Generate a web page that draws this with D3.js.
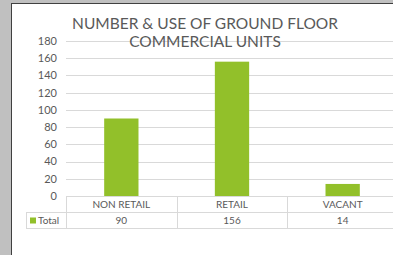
<!DOCTYPE html>
<html>
<head>
<meta charset="utf-8">
<script src="https://cdn.jsdelivr.net/npm/d3@7"></script>
<style>
  html, body { margin: 0; padding: 0; background: #c0c0c0; overflow: hidden; }
  svg { display: block; }
  text { font-family: Lato, "Open Sans", sans-serif; fill: #595959; }
</style>
</head>
<body>
<div id="chart"></div>
<script>
const categories = ['NON RETAIL', 'RETAIL', 'VACANT'];
const totals = [90, 156, 14];
const yTicks = [0, 20, 40, 60, 80, 100, 120, 140, 160, 180];
const titleLines = ['NUMBER & USE OF GROUND FLOOR', 'COMMERCIAL UNITS'];
const seriesName = 'Total';

const width = 393, height = 255;
const plot = {left: 66, right: 398, top: 41, bottom: 196};
const rowH = 16;
const green = '#92c02a';
const grid = '#d9d9d9';

const svg = d3.select('#chart').append('svg')
    .attr('width', width)
    .attr('height', height);

// chart panel
svg.append('rect')
    .attr('x', 11.5).attr('y', 3.5)
    .attr('width', width).attr('height', height)
    .style('fill', '#fff')
    .style('stroke', '#404040');

const y = d3.scaleLinear().domain([0, 180]).range([plot.bottom, plot.top]);
const cols = d3.scaleBand().domain(categories).range([plot.left, plot.right]);
const x = d3.scaleBand().domain(categories).range([plot.left, plot.right])
    .paddingInner(0.69).paddingOuter(0.345);

// gridlines
svg.append('g').selectAll('line')
    .data(yTicks.slice(1))
    .join('line')
    .attr('x1', plot.left).attr('x2', plot.right)
    .attr('y1', d => Math.round(y(d)) + 0.5).attr('y2', d => Math.round(y(d)) + 0.5)
    .style('stroke', grid);

// y axis labels
svg.append('g').selectAll('text')
    .data(yTicks)
    .join('text')
    .attr('x', 57).attr('y', d => y(d))
    .attr('dy', '0.35em')
    .attr('text-anchor', 'end')
    .style('font-size', '11px')
    .text(d => d);

// bars
svg.append('g').selectAll('rect')
    .data(categories)
    .join('rect')
    .attr('x', d => x(d))
    .attr('width', x.bandwidth())
    .attr('y', (d, i) => y(totals[i]))
    .attr('height', (d, i) => y(0) - y(totals[i]))
    .style('fill', green);

// title (drawn over the top gridline)
svg.append('g').selectAll('text')
    .data(titleLines)
    .join('text')
    .attr('x', 205)
    .attr('y', (d, i) => 29 + i * 18)
    .attr('text-anchor', 'middle')
    .style('font-size', '15.5px')
    .text(d => d);

// data table
const table = svg.append('g').style('stroke', grid).style('fill', 'none');
const r0 = plot.bottom + 0.5, r1 = r0 + rowH, r2 = r1 + rowH;
table.append('line').attr('x1', plot.left).attr('x2', width).attr('y1', r0).attr('y2', r0);
table.append('line').attr('x1', 26).attr('x2', width).attr('y1', r1).attr('y2', r1);
table.append('line').attr('x1', 26).attr('x2', width).attr('y1', r2).attr('y2', r2);
table.append('line').attr('x1', 26.5).attr('x2', 26.5).attr('y1', r1).attr('y2', r2);
table.selectAll('line.col')
    .data(categories)
    .join('line')
    .attr('class', 'col')
    .attr('x1', d => Math.round(cols(d)) + 0.5).attr('x2', d => Math.round(cols(d)) + 0.5)
    .attr('y1', r0).attr('y2', r2);

svg.append('g').selectAll('text')
    .data(categories)
    .join('text')
    .attr('x', d => cols(d) + cols.bandwidth() / 2)
    .attr('y', r0 + rowH / 2)
    .attr('dy', '0.35em')
    .attr('text-anchor', 'middle')
    .style('font-size', '10px')
    .text(d => d);

svg.append('g').selectAll('text')
    .data(totals)
    .join('text')
    .attr('x', (d, i) => cols(categories[i]) + cols.bandwidth() / 2)
    .attr('y', r1 + rowH / 2)
    .attr('dy', '0.35em')
    .attr('text-anchor', 'middle')
    .style('font-size', '10px')
    .text(d => d);

// legend key in the table
svg.append('rect')
    .attr('x', 30).attr('y', r1 + 5)
    .attr('width', 6).attr('height', 6)
    .style('fill', green);
svg.append('text')
    .attr('x', 38).attr('y', r1 + rowH / 2)
    .attr('dy', '0.35em')
    .style('font-size', '10px')
    .text(seriesName);
</script>
</body>
</html>
